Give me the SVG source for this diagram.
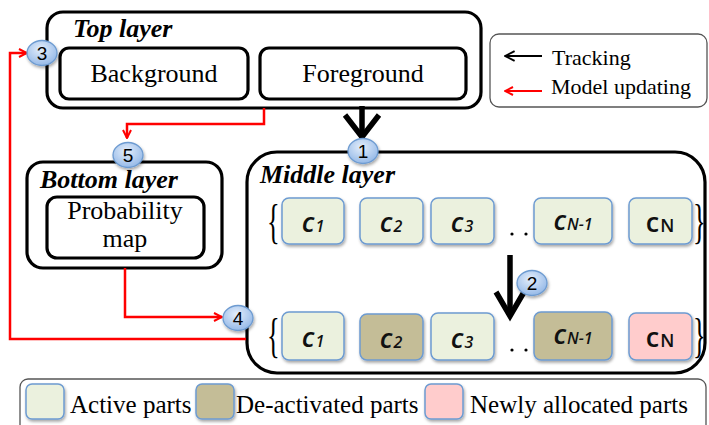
<svg xmlns="http://www.w3.org/2000/svg" width="709" height="425" viewBox="0 0 709 425">
<defs>
  <radialGradient id="gb" cx="0.45" cy="0.35" r="0.7">
    <stop offset="0" stop-color="#e4eefb"/>
    <stop offset="1" stop-color="#8fb5e6"/>
  </radialGradient>
  <filter id="sh" x="-20%" y="-20%" width="140%" height="150%">
    <feDropShadow dx="1" dy="2" stdDeviation="1.5" flood-color="#000" flood-opacity="0.35"/>
  </filter>
  <marker id="ar" viewBox="0 0 10 10" refX="9" refY="5" markerWidth="10" markerHeight="10" markerUnits="userSpaceOnUse" orient="auto">
    <path d="M1,1 L9,5 L1,9" fill="none" stroke="#ff0000" stroke-width="2"/>
  </marker>
  <marker id="ak" viewBox="0 0 10 10" refX="9" refY="5" markerWidth="12" markerHeight="12" markerUnits="userSpaceOnUse" orient="auto">
    <path d="M1,1 L9,5 L1,9" fill="none" stroke="#000" stroke-width="1.6"/>
  </marker>
</defs>
<style>
  .layer{fill:#fff;stroke:#000;stroke-width:3.2}
  .inner{fill:#fff;stroke:#000;stroke-width:3.2}
  .t{font-family:"Liberation Serif","Times New Roman",serif;fill:#000}
  .title{font-family:"Liberation Serif","Times New Roman",serif;font-weight:bold;font-style:italic;font-size:26px}
  .lbl{font-size:26px;text-anchor:middle}
  .part{stroke:#6d9bd1;stroke-width:1.5;filter:url(#sh)}
  .act{fill:#ebf1de}
  .deact{fill:#c4bd97}
  .newp{fill:#ffcccc}
  .c{font-family:"Open Sans","Liberation Sans",sans-serif;font-weight:600;font-style:italic;font-size:27px;text-anchor:middle;fill:#111}
  .cn{font-style:normal}
  .sub{font-size:16px;font-style:italic}
  .num{fill:url(#gb);stroke:#6d9bd1;stroke-width:1.3;filter:url(#sh)}
  .numt{font-family:"Liberation Sans",Arial,sans-serif;font-size:19px;text-anchor:middle;fill:#000}
  .red{fill:none;stroke:#ff0000;stroke-width:2.5}
  .blk{fill:none;stroke:#000;stroke-width:5.5}
  .brace{font-family:"Liberation Serif",serif;font-size:48px;fill:#000}
  .dot{fill:#000}
</style>

<g id="top-layer">
  <rect class="layer" x="47" y="12" width="434" height="96" rx="16"/>
  <text class="title" x="73" y="37">Top layer</text>
</g>
<g id="background">
  <rect class="inner" x="60" y="48" width="188" height="51" rx="9"/>
  <text class="t lbl" x="154" y="82">Background</text>
</g>
<g id="foreground">
  <rect class="inner" x="260" y="48" width="206" height="51" rx="9"/>
  <text class="t lbl" x="363" y="82">Foreground</text>
</g>

<g id="legend-arrows">
  <rect x="490" y="34" width="217" height="73" rx="9" fill="#fff" stroke="#555" stroke-width="1.3"/>
  <line x1="542" y1="56" x2="505" y2="56" stroke="#000" stroke-width="2" marker-end="url(#ak)"/>
  <text class="t" x="552" y="65" font-size="22">Tracking</text>
  <line x1="542" y1="91" x2="505" y2="91" stroke="#ff0000" stroke-width="2" marker-end="url(#ar)"/>
  <text class="t" x="551" y="94" font-size="22">Model updating</text>
</g>

<g id="bottom-layer">
  <rect class="layer" x="27" y="162" width="195" height="106" rx="16"/>
  <text class="title" x="40" y="188">Bottom layer</text>
</g>
<g id="probability-map">
  <rect class="inner" x="47" y="197" width="157" height="61" rx="10"/>
  <text class="t lbl" x="125" y="219">Probability</text>
  <text class="t lbl" x="125" y="247">map</text>
</g>

<g id="middle-layer">
  <rect class="layer" x="247" y="152" width="458" height="221" rx="30"/>
  <text class="title" x="260" y="183" font-size="27">Middle layer</text>
</g>

<g id="row1">
  <text class="brace" transform="translate(267,238) scale(0.55,1)">{</text>
  <text class="brace" transform="translate(693,238) scale(0.55,1)">}</text>
  <g id="r1c1"><rect class="part act" x="282" y="198" width="62" height="46" rx="7"/><text class="c" x="313" y="232">c<tspan class="sub" dx="1">1</tspan></text></g>
  <g id="r1c2"><rect class="part act" x="360" y="198" width="63" height="46" rx="7"/><text class="c" x="391" y="232">c<tspan class="sub" dx="1">2</tspan></text></g>
  <g id="r1c3"><rect class="part act" x="431" y="198" width="63" height="46" rx="7"/><text class="c" x="462" y="232">c<tspan class="sub" dx="1">3</tspan></text></g>
  <circle class="dot" cx="512" cy="234" r="1.6"/>
  <circle class="dot" cx="526" cy="234" r="1.6"/>
  <g id="r1cn1"><rect class="part act" x="534" y="198" width="78" height="46" rx="7"/><text class="c" x="573" y="230">c<tspan class="sub" dx="1">N-1</tspan></text></g>
  <g id="r1cn"><rect class="part act" x="629" y="198" width="63" height="46" rx="7"/><text class="c cn" x="660" y="232">c<tspan font-size="18" dx="1">N</tspan></text></g>
</g>

<g id="row2">
  <text class="brace" transform="translate(267,352) scale(0.55,1)">{</text>
  <text class="brace" transform="translate(693,352) scale(0.55,1)">}</text>
  <g id="r2c1"><rect class="part act" x="282" y="312" width="62" height="48" rx="7"/><text class="c" x="313" y="347">c<tspan class="sub" dx="1">1</tspan></text></g>
  <g id="r2c2"><rect class="part deact" x="360" y="314" width="63" height="46" rx="7"/><text class="c" x="391" y="348">c<tspan class="sub" dx="1">2</tspan></text></g>
  <g id="r2c3"><rect class="part act" x="431" y="313" width="63" height="47" rx="7"/><text class="c" x="462" y="348">c<tspan class="sub" dx="1">3</tspan></text></g>
  <circle class="dot" cx="512" cy="350" r="1.6"/>
  <circle class="dot" cx="526" cy="350" r="1.6"/>
  <circle class="dot" cx="542" cy="350" r="1.6"/>
  <g id="r2cn1"><rect class="part deact" x="534" y="312" width="78" height="48" rx="7"/><text class="c" x="573" y="344">c<tspan class="sub" dx="1">N-1</tspan></text></g>
  <g id="r2cn"><rect class="part newp" x="629" y="313" width="63" height="47" rx="7"/><text class="c cn" x="660" y="347">c<tspan font-size="18" dx="1">N</tspan></text></g>
</g>

<g id="connectors">
  <path class="red" d="M264,108 V124 H127 V138" marker-end="url(#ar)"/>
  <path class="red" d="M125,268 V317 H222" marker-end="url(#ar)"/>
  <path class="red" d="M246,339 H10 V53 H27" marker-end="url(#ar)"/>
  <line class="blk" x1="362" y1="106" x2="362" y2="135"/>
  <path class="blk" d="M345,115 L362,137 L379,115" stroke-linejoin="miter"/>
  <line class="blk" x1="510" y1="255" x2="510" y2="314"/>
  <path class="blk" d="M496,292 L510,316 L524,292" stroke-linejoin="miter"/>
</g>

<g id="badge-1"><ellipse class="num" cx="363" cy="151" rx="15" ry="12.5"/><text class="numt" x="363" y="158">1</text></g>
<g id="badge-2"><ellipse class="num" cx="532" cy="283" rx="15" ry="12.5"/><text class="numt" x="532" y="290">2</text></g>
<g id="badge-3"><ellipse class="num" cx="42" cy="53" rx="15" ry="12.5"/><text class="numt" x="42" y="60">3</text></g>
<g id="badge-4"><ellipse class="num" cx="238" cy="318" rx="15" ry="12.5"/><text class="numt" x="238" y="325">4</text></g>
<g id="badge-5"><ellipse class="num" cx="128" cy="155" rx="15" ry="12.5"/><text class="numt" x="128" y="162">5</text></g>

<g id="legend-parts">
  <rect x="20" y="379" width="686" height="60" rx="8" fill="#fff" stroke="#555" stroke-width="1.3"/>
  <rect class="part act" x="26" y="384" width="38" height="35" rx="6"/>
  <text class="t" x="70" y="413" font-size="25">Active parts</text>
  <rect class="part deact" x="196" y="384" width="38" height="35" rx="6"/>
  <text class="t" x="236" y="413" font-size="25">De-activated parts</text>
  <rect class="part newp" x="425" y="384" width="38" height="35" rx="6"/>
  <text class="t" x="470" y="413" font-size="25">Newly allocated parts</text>
</g>
</svg>
